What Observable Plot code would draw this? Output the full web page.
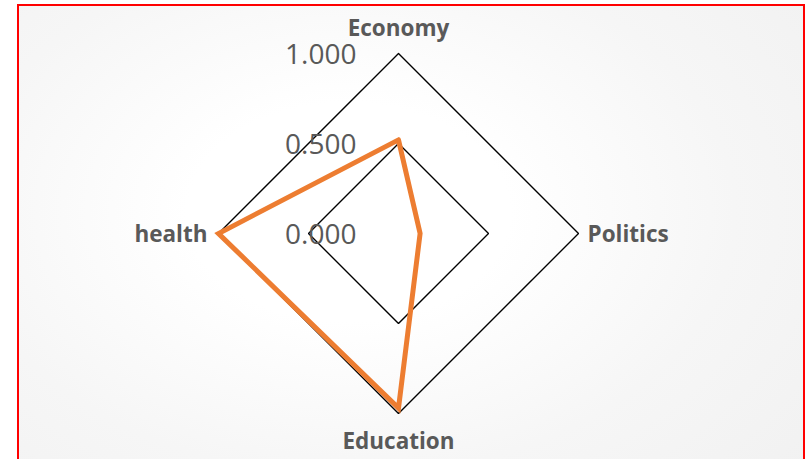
<!DOCTYPE html>
<html>
<head>
<meta charset="utf-8">
<script src="https://cdn.jsdelivr.net/npm/d3@7"></script>
<script src="https://cdn.jsdelivr.net/npm/@observablehq/plot@0.6"></script>
<style>
  html, body { margin: 0; padding: 0; width: 806px; height: 459px; overflow: hidden; background: #fff; }
  #frame {
    position: absolute; left: 17px; top: 4px; width: 788px; height: 520px;
    box-sizing: border-box; border: 2.5px solid #ff0000;
    background: radial-gradient(ellipse at 42% 40%, #ffffff 25%, #f6f6f6 60%, #f0f0f0 100%);
  }
  #chart { position: absolute; left: 0; top: 0; }
  #chart svg { background: transparent; }
</style>
</head>
<body>
<div id="frame"></div>
<div id="chart"></div>
<script>
// Data
const categories = ["Economy", "Politics", "Education", "health"];
const values = [0.52, 0.12, 0.97, 1.0];
const ticks = [0, 0.5, 1];
const tickLabels = ["0.000", "0.500", "1.000"];

const n = categories.length;
const angle = i => (2 * Math.PI * i) / n; // Economy at top, clockwise
const px = (i, v) => v * Math.sin(angle(i));
const py = (i, v) => v * Math.cos(angle(i));

// rings (closed)
const ringData = [];
ticks.filter(t => t > 0).forEach(t => {
  for (let k = 0; k <= n; k++) ringData.push({ring: t, i: k % n, v: t});
});
// series (closed)
const seriesData = [];
for (let k = 0; k <= n; k++) seriesData.push({i: k % n, v: values[k % n]});

const catData = categories.map((c, i) => ({name: c, i}));
const tickData = ticks.map((t, j) => ({v: t, label: tickLabels[j]}));

const grey = "#595959";
const font = "'Open Sans', 'DejaVu Sans', sans-serif";
const catSize = 22.5;

const chart = Plot.plot({
  width: 806,
  height: 459,
  margin: 0,
  x: {domain: [-1, 1], range: [218, 578], axis: null},
  y: {domain: [-1, 1], range: [413, 53], axis: null},
  style: {fontFamily: font, background: "transparent", overflow: "visible"},
  marks: [
    Plot.line(ringData, {
      x: d => px(d.i, d.v), y: d => py(d.i, d.v), z: "ring",
      stroke: "#000", strokeWidth: 1.4, strokeLinejoin: "miter"
    }),
    Plot.text(tickData, {
      x: () => 0, y: d => d.v, text: "label",
      dx: -42, dy: 1.5, textAnchor: "end", fontSize: 28, fill: grey, fontFamily: font
    }),
    Plot.line(seriesData, {
      x: d => px(d.i, d.v), y: d => py(d.i, d.v),
      stroke: "#ED7D31", strokeWidth: 5, strokeLinejoin: "miter", strokeMiterlimit: 10
    }),
    // category labels
    Plot.text(catData.filter(d => d.i === 0), {
      x: d => px(d.i, 1), y: d => py(d.i, 1), text: "name",
      dy: -25, textAnchor: "middle", fontSize: catSize, fontWeight: "bold", fill: grey, fontFamily: font
    }),
    Plot.text(catData.filter(d => d.i === 1), {
      x: d => px(d.i, 1), y: d => py(d.i, 1), text: "name",
      dx: 9, dy: 1.5, textAnchor: "start", fontSize: catSize, fontWeight: "bold", fill: grey, fontFamily: font
    }),
    Plot.text(catData.filter(d => d.i === 2), {
      x: d => px(d.i, 1), y: d => py(d.i, 1), text: "name",
      dy: 28, textAnchor: "middle", fontSize: catSize, fontWeight: "bold", fill: grey, fontFamily: font
    }),
    Plot.text(catData.filter(d => d.i === 3), {
      x: d => px(d.i, 1), y: d => py(d.i, 1), text: "name",
      dx: -11, dy: 1.5, textAnchor: "end", fontSize: catSize, fontWeight: "bold", fill: grey, fontFamily: font
    })
  ]
});
document.getElementById("chart").appendChild(chart);
</script>
</body>
</html>
